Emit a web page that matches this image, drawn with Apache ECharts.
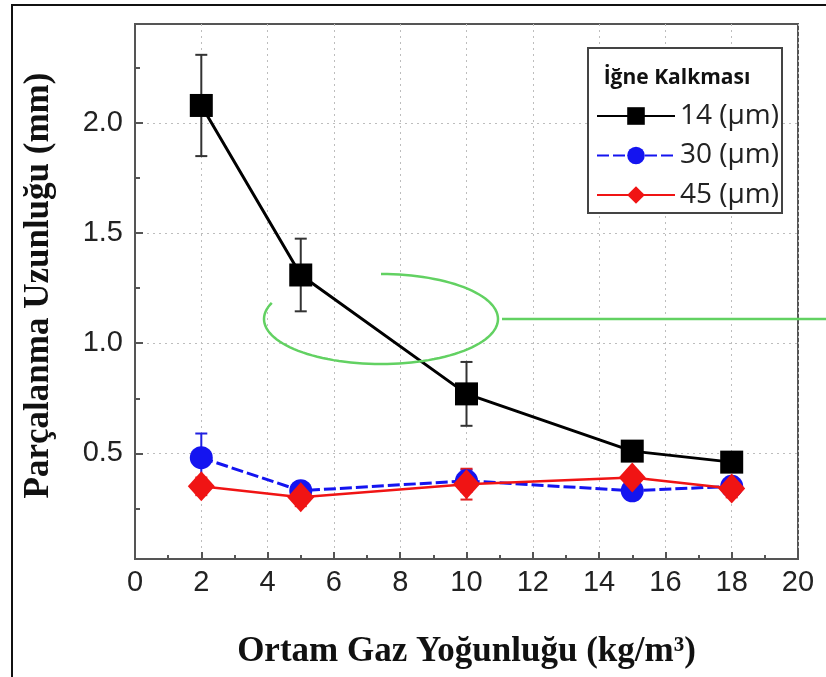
<!DOCTYPE html>
<html>
<head>
<meta charset="utf-8">
<script src="https://cdn.jsdelivr.net/npm/echarts@6/dist/echarts.min.js"></script>
<style>
  html, body { margin: 0; padding: 0; background: #fff; }
  #chart { width: 826px; height: 677px; }
</style>
</head>
<body>
<div id="chart"></div>
<script>
// Gas density (kg/m^3) at which each needle lift was measured
const densities = [2, 5, 10, 15, 18];

// Breakup length (mm) and its error half-width for each needle lift
const len14 = [2.08, 1.31, 0.77, 0.51, 0.46];
const err14 = [0.23, 0.165, 0.145, 0.04, 0.04];
const len30 = [0.48, 0.33, 0.375, 0.33, 0.35];
const err30 = [0.11, 0.04, 0.05, 0.04, 0.04];
const len45 = [0.35, 0.30, 0.36, 0.39, 0.34];
const err45 = [0.04, 0.04, 0.07, 0.03, 0.04];

const seriesNames = ['14 (µm)', '30 (µm)', '45 (µm)'];
const legendTitle = 'İğne Kalkması';
const xTitle = 'Ortam Gaz Yoğunluğu (kg/m³)';
const yTitle = 'Parçalanma Uzunluğu (mm)';
const yMajor = [0.5, 1.0, 1.5, 2.0];
const yMinor = [0.25, 0.75, 1.25, 1.75, 2.25];

const pairs = (ys) => densities.map((x, i) => [x, ys[i]]);
const triples = (ys, es) => densities.map((x, i) => [x, ys[i], es[i]]);

function errorBars(color) {
  return function (params, api) {
    const x = api.value(0), y = api.value(1), e = api.value(2);
    const top = api.coord([x, y + e]);
    const bot = api.coord([x, y - e]);
    const hw = 6;
    const st = { stroke: color, lineWidth: 2 };
    return {
      type: 'group',
      children: [
        { type: 'line', shape: { x1: top[0], y1: top[1], x2: bot[0], y2: bot[1] }, style: st },
        { type: 'line', shape: { x1: top[0] - hw, y1: top[1], x2: top[0] + hw, y2: top[1] }, style: st },
        { type: 'line', shape: { x1: bot[0] - hw, y1: bot[1], x2: bot[0] + hw, y2: bot[1] }, style: st }
      ]
    };
  };
}

// open hand-drawn style ellipse used as a highlight mark (screen pixels)
function openEllipse(cx, cy, rx, ry, fromDeg, toDeg) {
  const pts = [];
  for (let a = fromDeg; a <= toDeg; a += 3) {
    const t = a * Math.PI / 180;
    pts.push([cx + rx * Math.cos(t), cy + ry * Math.sin(t)]);
  }
  return pts;
}

const chart = echarts.init(document.getElementById('chart'), null, { renderer: 'canvas' });

const axisGrey = '#555';
const gridDots = { show: true, lineStyle: { color: '#bdbdbd', type: [2, 4], width: 1 } };

chart.setOption({
  backgroundColor: '#fff',
  animation: false,
  grid: { left: 135, right: 28, top: 24, bottom: 118, show: true, borderColor: axisGrey, borderWidth: 2, backgroundColor: 'transparent' },
  xAxis: {
    type: 'value', min: 0, max: 20, interval: 2,
    axisLine: { lineStyle: { color: axisGrey, width: 2 } },
    axisTick: { inside: true, length: 7, lineStyle: { color: axisGrey, width: 2 } },
    minorTick: { show: true, splitNumber: 2, length: 4, lineStyle: { color: axisGrey, width: 2 } },
    axisLabel: { fontFamily: 'Liberation Sans', fontSize: 29, color: '#222', margin: 9 },
    splitLine: gridDots,
    name: xTitle, nameLocation: 'middle', nameGap: 75,
    nameTextStyle: { fontFamily: 'Liberation Serif', fontWeight: 'bold', fontSize: 35, color: '#111' }
  },
  yAxis: [
    {
      type: 'value', min: 0.02, max: 2.45,
      axisLine: { lineStyle: { color: axisGrey, width: 2 } },
      axisTick: { inside: true, length: 8, customValues: yMajor, lineStyle: { color: axisGrey, width: 2 } },
      axisLabel: { customValues: yMajor, fontFamily: 'Liberation Sans', fontSize: 29, color: '#222', margin: 12,
        formatter: (v) => v.toFixed(1) },
      splitLine: gridDots,
      name: yTitle, nameLocation: 'middle', nameGap: 79,
      nameTextStyle: { fontFamily: 'Liberation Serif', fontWeight: 'bold', fontSize: 35, color: '#111', padding: [0, 0, 0, 12] }
    },
    {
      type: 'value', min: 0.02, max: 2.45, position: 'left',
      axisLine: { show: false },
      axisTick: { show: true, inside: true, length: 5, customValues: yMinor, lineStyle: { color: axisGrey, width: 2 } },
      axisLabel: { show: false },
      splitLine: { show: false }
    }
  ],
  legend: {
    data: seriesNames,
    orient: 'vertical', left: 591, top: 97,
    itemWidth: 78, itemHeight: 22, itemGap: 11.5,
    textStyle: { fontFamily: 'Open Sans', fontSize: 28, color: '#222' },
    z: 10
  },
  graphic: [
    { type: 'rect', z: -1, shape: { x: 12, y: 5, width: 900, height: 800 }, style: { fill: 'none', stroke: '#111', lineWidth: 2 } },
    { type: 'rect', z: 5, shape: { x: 588, y: 48, width: 194, height: 165 }, style: { fill: '#fff', stroke: '#444', lineWidth: 2 } },
    { type: 'text', z: 6, x: 677, y: 78, style: { text: legendTitle, fontFamily: 'Open Sans', fontWeight: 'bold', fontSize: 21, fill: '#111', align: 'center', verticalAlign: 'middle' } },
    // green highlight around the 5–10 kg/m³ region
    { type: 'polyline', z: 20, shape: { points: openEllipse(381, 319, 117, 45, -90, 201) }, style: { fill: 'none', stroke: '#62d162', lineWidth: 2.5 } },
    { type: 'line', z: 20, shape: { x1: 502, y1: 319, x2: 830, y2: 319 }, style: { stroke: '#62d162', lineWidth: 2.5 } }
  ],
  series: [
    { type: 'custom', name: 'err14', renderItem: errorBars('#333'), data: triples(len14, err14), z: 1, silent: true },
    { type: 'custom', name: 'err30', renderItem: errorBars('#2020e0'), data: triples(len30, err30), z: 1, silent: true },
    { type: 'custom', name: 'err45', renderItem: errorBars('#e02020'), data: triples(len45, err45), z: 1, silent: true },
    {
      type: 'line', name: seriesNames[0], data: pairs(len14), z: 3,
      symbol: 'rect', symbolSize: 23,
      lineStyle: { color: '#000', width: 3 }, itemStyle: { color: '#000' }
    },
    {
      type: 'line', name: seriesNames[1], data: pairs(len30), z: 4,
      symbol: 'circle', symbolSize: 23,
      lineStyle: { color: '#1414f0', width: 3, type: [12, 4] }, itemStyle: { color: '#1414f0' }
    },
    {
      type: 'line', name: seriesNames[2], data: pairs(len45), z: 5,
      symbol: 'diamond', symbolSize: [27, 30],
      lineStyle: { color: '#f01414', width: 2.5 }, itemStyle: { color: '#f01414' }
    }
  ]
});
</script>
</body>
</html>
